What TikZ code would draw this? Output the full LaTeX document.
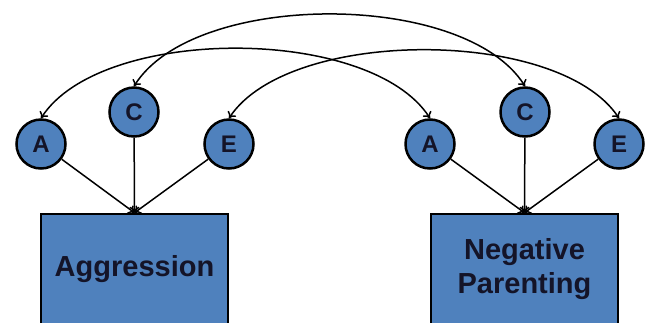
\documentclass[tikz,border=0pt]{standalone}
\usepackage{fontspec}
\setmainfont{Liberation Sans}
\usetikzlibrary{arrows.meta}
\definecolor{boxblue}{RGB}{79,129,189}
\definecolor{inkdark}{RGB}{20,20,40}
\begin{document}
\begin{tikzpicture}[x=1pt, y=-1pt, line width=1.5pt, >={To[length=6pt,width=10pt]},
  every node/.style={text=inkdark},
  latent/.style={circle, draw, line width=2.5pt, fill=boxblue, minimum size=49pt,
    inner sep=0pt, font=\fontsize{24}{27}\selectfont\bfseries},
  pheno/.style={draw, line width=2.5pt, fill=boxblue, minimum width=187pt,
    minimum height=110pt, align=center, font=\fontsize{29}{34}\selectfont\bfseries}]
  \clip (0,0) rectangle (647,322);
  % twin 1
  \node[pheno] (boxL) at (134.5,269) {Aggression};
  \node[latent] (aL) at (41,144) {A};
  \node[latent] (cL) at (134,112) {C};
  \node[latent] (eL) at (229,144) {E};
  % twin 2
  \node[pheno] (boxR) at (524.5,269) {Negative\\Parenting};
  \node[latent] (aR) at (430,144) {A};
  \node[latent] (cR) at (525,112) {C};
  \node[latent] (eR) at (619,144) {E};
  \foreach \s in {L,R}
    \foreach \v in {a,c,e}
      \draw[->] (\v\s) -- (box\s.north);
  % correlations
  \draw[<->] (aL.north) .. controls +(60,-93) and +(-60,-93) .. (aR.north);
  \draw[<->] (cL.north) .. controls +(60,-96) and +(-60,-96) .. (cR.north);
  \draw[<->] (eL.north) .. controls +(60,-91) and +(-60,-91) .. (eR.north);
\end{tikzpicture}
\end{document}
